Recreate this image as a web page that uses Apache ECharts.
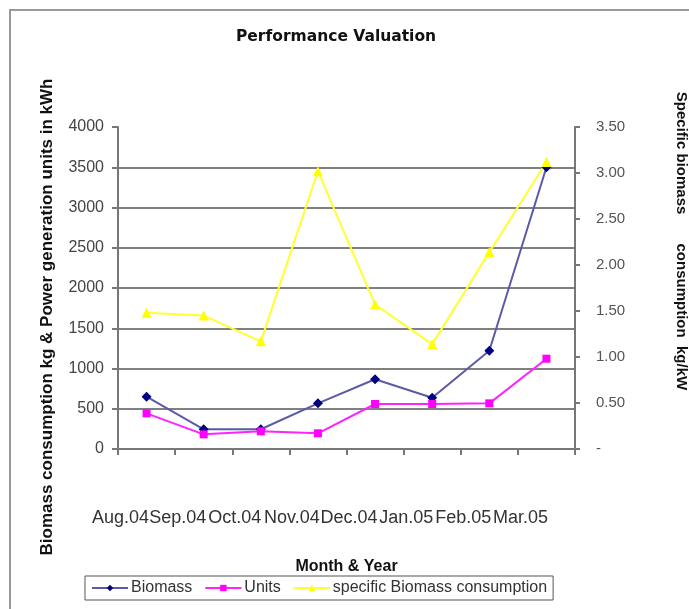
<!DOCTYPE html>
<html>
<head>
<meta charset="utf-8">
<script src="https://cdn.jsdelivr.net/npm/echarts@6/dist/echarts.min.js"></script>
<style>
  html, body { margin: 0; padding: 0; background: #fff; }
  #chart { width: 689px; height: 609px; }
</style>
</head>
<body>
<div id="chart"></div>
<script>
const months = ["Aug.04", "Sep.04", "Oct.04", "Nov.04", "Dec.04", "Jan.05", "Feb.05", "Mar.05"];
const biomass = [650, 245, 245, 567, 866, 637, 1221, 3500];
const units = [443, 182, 220, 195, 559, 559, 567, 1122];
const specificConsumption = [1.48, 1.45, 1.17, 3.02, 1.57, 1.14, 2.14, 3.12];

const font = "'Liberation Sans', Arial, sans-serif";
// split line at the top (4000) is not drawn in the original
const gridColors = ["#808080", "#808080", "#808080", "#808080", "#808080", "#808080", "#808080", "#808080", "transparent"];

const chart = echarts.init(document.getElementById("chart"));
chart.setOption({
  animation: false,
  backgroundColor: "#fff",
  textStyle: { fontFamily: font },
  title: {
    text: "Performance Valuation",
    left: 231,
    top: 24,
    textStyle: { fontFamily: "'DejaVu Sans', sans-serif", fontSize: 15.5, fontWeight: "bold", color: "#111" },
  },
  graphic: [
    {
      type: "rect",
      silent: true,
      shape: { x: 10, y: 10, width: 700, height: 620 },
      style: { fill: null, stroke: "#9a9a9a", lineWidth: 2 },
    },
    {
      type: "text",
      x: 47,
      y: 317,
      rotation: Math.PI / 2,
      style: {
        text: "Biomass consumption kg & Power generation units in kWh",
        font: "bold 17px " + font,
        fill: "#111",
        align: "center",
        verticalAlign: "middle",
      },
    },
    {
      type: "text",
      x: 681,
      y: 241,
      rotation: -Math.PI / 2,
      style: {
        text: "Specific biomass       consumption  kg/kW",
        font: "bold 15px " + font,
        fill: "#111",
        align: "center",
        verticalAlign: "middle",
      },
    },
  ],
  legend: {
    left: 85,
    top: 576,
    padding: [4, 6, 4, 6],
    itemGap: 12,
    itemWidth: 36,
    itemHeight: 8,
    borderColor: "#555",
    borderWidth: 1,
    selectedMode: false,
    textStyle: { fontFamily: font, fontSize: 16, color: "#333", padding: [0, 0, 0, -2] },
    data: ["Biomass", "Units", "specific Biomass consumption"],
  },
  grid: {
    left: 118,
    right: 114,
    top: 127,
    bottom: 160,
  },
  xAxis: {
    type: "category",
    data: months,
    boundaryGap: true,
    name: "Month & Year",
    nameLocation: "middle",
    nameGap: 110,
    nameTextStyle: { fontFamily: font, fontSize: 16, fontWeight: "bold", color: "#111" },
    axisLine: { lineStyle: { color: "#777", width: 2 } },
    axisTick: { show: true, length: 6, lineStyle: { color: "#777", width: 2 } },
    axisLabel: {
      interval: 0,
      hideOverlap: false,
      margin: 60,
      align: "center",
      padding: [0, 52, 0, 0],
      fontSize: 18,
      color: "#333",
    },
  },
  yAxis: [
    {
      type: "value",
      min: 0,
      max: 4000,
      interval: 500,
      axisLine: { show: true, lineStyle: { color: "#777", width: 2 } },
      axisTick: { show: true, length: 6, lineStyle: { color: "#777", width: 2 } },
      axisLabel: { margin: 14, fontSize: 16, color: "#444", formatter: (v) => String(v) },
      splitLine: { lineStyle: { color: gridColors, width: 2 } },
    },
    {
      type: "value",
      position: "right",
      min: 0,
      max: 3.5,
      interval: 0.5,
      axisLine: { show: true, lineStyle: { color: "#777", width: 2 } },
      axisTick: { show: true, length: 5, lineStyle: { color: "#777", width: 2 } },
      axisLabel: {
        margin: 21,
        fontSize: 15,
        color: "#555",
        formatter: (v) => (v === 0 ? "-" : v.toFixed(2)),
      },
      splitLine: { show: false },
    },
  ],
  series: [
    {
      name: "Biomass",
      type: "line",
      data: biomass,
      symbol: "diamond",
      symbolSize: 10,
      itemStyle: { color: "#000080" },
      lineStyle: { width: 2, color: "#5a5aa8" },
    },
    {
      name: "Units",
      type: "line",
      data: units,
      symbol: "rect",
      symbolSize: 8,
      itemStyle: { color: "#ff00ff" },
      lineStyle: { width: 2, color: "#ff22ff" },
    },
    {
      name: "specific Biomass consumption",
      type: "line",
      yAxisIndex: 1,
      data: specificConsumption,
      symbol: "triangle",
      symbolSize: 10,
      itemStyle: { color: "#ffff00" },
      lineStyle: { width: 2, color: "#ffff33" },
    },
  ],
});
</script>
</body>
</html>
